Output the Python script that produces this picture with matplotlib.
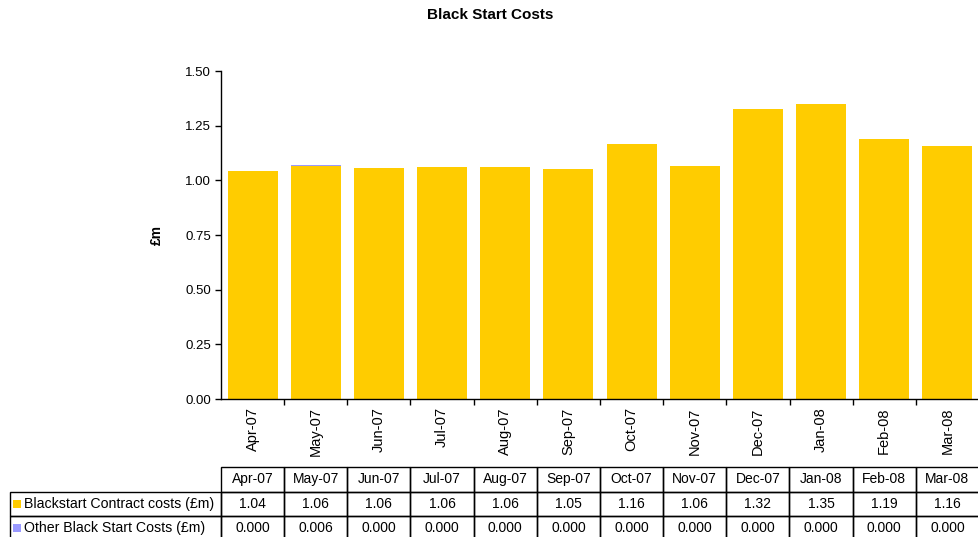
import matplotlib.pyplot as plt
import matplotlib.patches as mpatches
import numpy as np

plt.rcParams["font.family"] = ["Liberation Sans", "DejaVu Sans"]

months = ["Apr-07", "May-07", "Jun-07", "Jul-07", "Aug-07", "Sep-07",
          "Oct-07", "Nov-07", "Dec-07", "Jan-08", "Feb-08", "Mar-08"]
contract = [1.043, 1.064, 1.056, 1.061, 1.061, 1.052,
            1.164, 1.065, 1.324, 1.349, 1.189, 1.157]
other = [0.000, 0.006, 0.000, 0.000, 0.000, 0.000,
         0.000, 0.000, 0.000, 0.000, 0.000, 0.000]
series_names = ["Blackstart Contract costs (£m)", "Other Black Start Costs (£m)"]
series_colors = ["#FFCC00", "#9999FF"]

W, H = 979, 537
fig = plt.figure(figsize=(W / 100, H / 100), dpi=100)

# plot area in pixels
left, right, top, bottom = 221, 979, 71, 399
ax = fig.add_axes([left / W, 1 - bottom / H, (right - left) / W, (bottom - top) / H])

x = np.arange(len(months))
ax.bar(x, contract, width=0.79, color=series_colors[0], zorder=2)
ax.bar(x, other, width=0.79, bottom=contract, color=series_colors[1], zorder=2)

ax.set_xlim(-0.5, len(months) - 0.5)
ax.set_ylim(0, 1.5)
ax.set_yticks(np.arange(0, 1.51, 0.25))
ax.set_yticklabels([f"{v:.2f}" for v in np.arange(0, 1.51, 0.25)], fontsize=9.5)
ax.tick_params(axis="y", direction="out", length=4, width=1, pad=3)

ax.set_xticks(x)
ax.set_xticklabels(months, rotation=90, fontsize=10.5)
ax.tick_params(axis="x", which="major", length=0, pad=6)
ax.set_xticks(np.arange(0.5, len(months) - 0.5, 1), minor=True)
ax.tick_params(axis="x", which="minor", direction="out", length=4, width=1)

for s in ["top", "right"]:
    ax.spines[s].set_visible(False)
ax.spines["left"].set_linewidth(1)
ax.spines["bottom"].set_linewidth(1)

ax.set_ylabel("£m", fontsize=10, fontweight="bold", rotation=90)
ax.yaxis.set_label_coords(-57 / (right - left), 0.5)

fig.text(490 / W, 1 - 15 / H, "Black Start Costs", ha="center", va="center",
         fontsize=11, fontweight="bold")

# data table below the chart, drawn in pixel space
tab = fig.add_axes([0, 0, 1, 1], zorder=3)
tab.set_xlim(0, W)
tab.set_ylim(H, 0)
tab.axis("off")

col_w = (right - left) / len(months)
row_y = [467, 491.5, 516, 540.5]
label_left = 10
lw = 1.0

def cell(x0, y0, w, h):
    tab.add_patch(mpatches.Rectangle((x0, y0), w, h, fill=False,
                                     edgecolor="black", linewidth=lw, clip_on=False))

for i, m in enumerate(months):
    x0 = left + i * col_w
    cell(x0, row_y[0], col_w, row_y[1] - row_y[0])
    tab.text(x0 + col_w / 2, (row_y[0] + row_y[1]) / 2, m, ha="center", va="center", fontsize=10)

rows = [[f"{v:.2f}" for v in contract], [f"{v:.3f}" for v in other]]
for r, (name, color, vals) in enumerate(zip(series_names, series_colors, rows)):
    y0, y1 = row_y[r + 1], row_y[r + 2]
    cell(label_left, y0, left - label_left, y1 - y0)
    tab.add_patch(mpatches.Rectangle((13, (y0 + y1) / 2 - 4), 8, 8, facecolor=color,
                                     edgecolor="none"))
    tab.text(24, (y0 + y1) / 2, name, ha="left", va="center", fontsize=10.2)
    for i, v in enumerate(vals):
        x0 = left + i * col_w
        cell(x0, y0, col_w, y1 - y0)
        tab.text(x0 + col_w / 2, (y0 + y1) / 2, v, ha="center", va="center", fontsize=10)

fig.savefig("out.png", dpi=100)
